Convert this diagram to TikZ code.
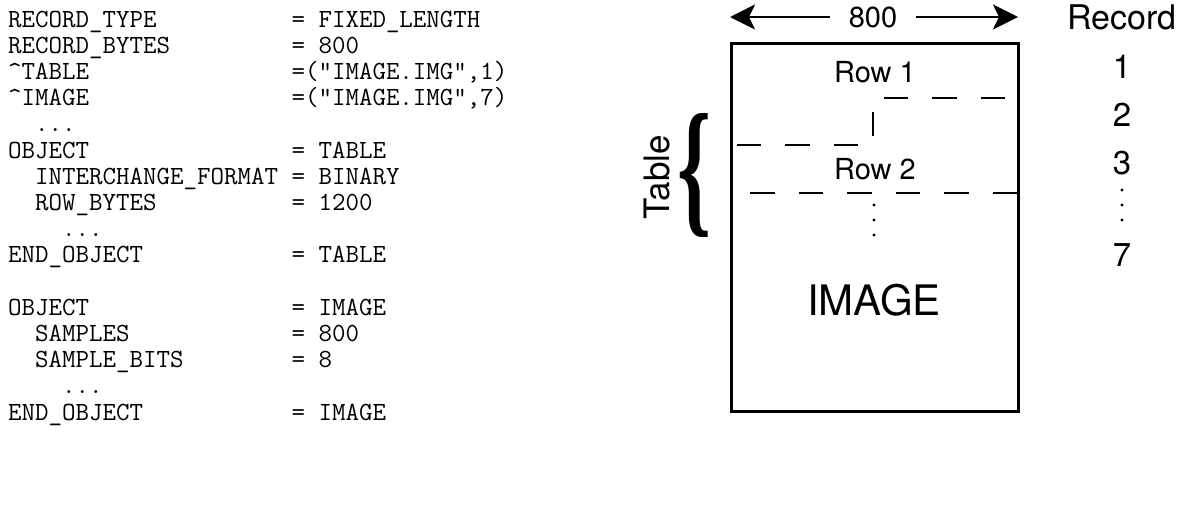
\documentclass[tikz,border=0pt]{standalone}
\usepackage{fontspec}
\usepackage{graphicx}
\setsansfont{TeX Gyre Heros}
\setmonofont{Latin Modern Mono}
\newfontfamily\bracefont{Liberation Serif}
\usetikzlibrary{arrows.meta,positioning}

\begin{document}
\begin{tikzpicture}[x=1pt, y=-1pt,
  lbl/.style={font=\sffamily\fontsize{29}{34}\selectfont, inner sep=0pt},
  reclbl/.style={font=\sffamily\fontsize{33}{38}\selectfont, inner sep=0pt},
  code/.style={font=\ttfamily\fontsize{26.2}{26.2}\selectfont, inner sep=0pt, anchor=base west},
  frame/.style={draw, line width=3pt, inner sep=0pt},
  rowline/.style={line width=2.8pt, dash pattern=on 24.5pt off 24pt},
  dimarr/.style={-{Stealth[length=25pt, width=25pt, inset=6pt]}, line width=2.5pt}]
  \useasboundingbox (0,0) rectangle (1189,507);
  % label on the left
  \node[code] (pds) at (8,27) {\begin{tabular}[t]{@{}l@{}l@{}}
RECORD\_TYPE & \ = FIXED\_LENGTH\\
RECORD\_BYTES & \ = 800\\
\textasciicircum TABLE & \ =("IMAGE.IMG",1)\\
\textasciicircum IMAGE & \ =("IMAGE.IMG",7)\\
\ \ ... & \\
OBJECT & \ = TABLE\\
\ \ INTERCHANGE\_FORMAT & \ = BINARY\\
\ \ ROW\_BYTES & \ = 1200\\
\ \ \ \ ... & \\
END\_OBJECT & \ = TABLE\\
 & \\
OBJECT & \ = IMAGE\\
\ \ SAMPLES & \ = 800\\
\ \ SAMPLE\_BITS & \ = 8\\
\ \ \ \ ... & \\
END\_OBJECT & \ = IMAGE
\end{tabular}};
  % file layout
  \node[frame, minimum width=287pt, minimum height=368pt] (img) at (874.5,227) {};
  \node[lbl] (row1) at (875,72) {Row 1};
  \node[lbl] (row2) at (875,169) {Row 2};
  \node[lbl, font=\sffamily\fontsize{42}{48}\selectfont] (imgname) at (874,300) {IMAGE};
  \draw[rowline] (1005,98) -- (873,98) -- (873,145) -- (737,145);
  \draw[rowline] (750,193) -- (1018,193);
  \foreach \y in {205,220,235} \fill (874,\y) circle (1.7pt);
  % width
  \node[lbl, inner xsep=19pt] (width) at (873,17) {800};
  \coordinate (wl) at (730,17);
  \coordinate (wr) at (1018,17);
  \draw[dimarr] (width) -- (wl);
  \draw[dimarr] (width) -- (wr);
  % table brace
  \node[inner sep=0pt] (brace) at (695,176) {\resizebox{34pt}{104pt}{\bracefont\bfseries\{}};
  \node[lbl, font=\sffamily\fontsize{35}{40}\selectfont, rotate=90] (tbl) at (657,177) {Table};
  % records
  \node[lbl, font=\sffamily\fontsize{34}{40}\selectfont] (rechead) at (1122,17.5) {Record};
  \foreach \n/\y in {1/67,2/115,3/163,7/255}
    \node[reclbl] (rec\n) at (1122,\y) {\n};
  \foreach \y in {190,205,220} \fill (1122,\y) circle (1.7pt);
\end{tikzpicture}
\end{document}
